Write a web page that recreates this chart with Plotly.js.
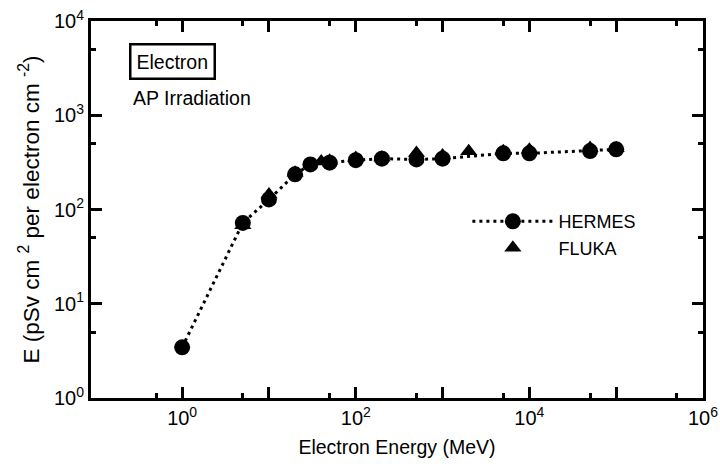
<!DOCTYPE html>
<html><head><meta charset="utf-8">
<script src="https://cdn.plot.ly/plotly-3.0.1.min.js"></script>
<style>html,body{margin:0;padding:0;background:#fff}#chart{width:720px;height:466px}</style>
</head><body><div id="chart"></div>
<script>
const hermesEnergy = [1, 5, 10, 20, 30, 50, 100, 200, 500, 1000, 5000, 10000, 50000, 100000];
const hermesDose   = [3.45, 72, 128, 236, 301, 314, 334, 346, 340, 346, 394, 394, 417, 435];
const flukaEnergy  = [5, 10, 20, 40, 50, 100, 200, 500, 1000, 2000, 5000, 10000, 50000, 100000];
const flukaDose    = [68, 144, 245, 324, 330, 351, 357, 398, 375, 414, 414, 430, 449, 446];

const xTickVals = [1, 10, 100, 1000, 10000, 100000, 1000000];
const xTickText = ['10<sup>0</sup>', '', '10<sup>2</sup>', '', '10<sup>4</sup>', '', '10<sup>6</sup>'];
const xMinorVals = [0.5, 5, 50, 500, 5000, 50000, 500000];
const yTickVals = [1, 10, 100, 1000, 10000];
const yTickText = ['10<sup>0</sup>', '10<sup>1</sup>', '10<sup>2</sup>', '10<sup>3</sup>', '10<sup>4</sup>'];
const yMinorVals = [5, 50, 500, 5000];

const FONT = 'Liberation Sans, Arial, sans-serif';

const traces = [
  {
    x: flukaEnergy, y: flukaDose, name: 'FLUKA', type: 'scatter', mode: 'markers',
    marker: {symbol: 'triangle-up', size: 15, color: '#000'}
  },
  {
    x: hermesEnergy, y: hermesDose, name: 'HERMES', type: 'scatter', mode: 'lines+markers',
    line: {color: '#000', width: 3, dash: '3px,4px'},
    marker: {symbol: 'circle', size: 16, color: '#000'}
  }
];

const axisCommon = {
  type: 'log', tickmode: 'array', ticks: 'inside', ticklen: 11, tickwidth: 3, tickcolor: '#000',
  showline: true, linewidth: 3, linecolor: '#000', mirror: 'allticks',
  showgrid: false, zeroline: false, tickfont: {family: FONT, size: 20, color: '#000'}
};

const layout = {
  width: 720, height: 466,
  margin: {l: 91, r: 17, t: 21, b: 68},
  paper_bgcolor: '#fff', plot_bgcolor: '#fff',
  font: {family: FONT, color: '#000', size: 18},
  showlegend: true,
  legend: {
    x: 0.615, y: 0.517, xanchor: 'left', yanchor: 'top',
    traceorder: 'reversed', itemwidth: 81, bgcolor: 'rgba(0,0,0,0)',
    font: {family: FONT, size: 18, color: '#000'}
  },
  xaxis: Object.assign({}, axisCommon, {
    range: [-1.05, 6], tickvals: xTickVals, ticktext: xTickText,
    minor: {tickvals: xMinorVals, ticks: 'inside', ticklen: 5, tickwidth: 3, tickcolor: '#000', showgrid: false},
    title: {text: 'Electron Energy (MeV)', font: {family: FONT, size: 19.5, color: '#000'}, standoff: 13}
  }),
  yaxis: Object.assign({}, axisCommon, {
    range: [0, 4], tickvals: yTickVals, ticktext: yTickText,
    minor: {tickvals: yMinorVals, ticks: 'inside', ticklen: 5, tickwidth: 3, tickcolor: '#000', showgrid: false},
    title: {text: 'E (pSv cm <sup>2</sup> per electron cm <sup>-2</sup>)', font: {family: FONT, size: 22.5, color: '#000'}, standoff: 9}
  }),
  annotations: [
    {xref: 'paper', yref: 'paper', x: (172.5 - 91) / 612, y: 1 - (61 - 21) / 377, xanchor: 'center', yanchor: 'middle',
     text: 'Electron', showarrow: false, bordercolor: '#000', borderwidth: 2.5, borderpad: 5,
     font: {family: FONT, size: 19.5, color: '#000'}},
    {xref: 'paper', yref: 'paper', x: (131 - 91) / 612, y: 1 - (98 - 21) / 377, xanchor: 'left', yanchor: 'middle',
     text: 'AP Irradiation', showarrow: false, font: {family: FONT, size: 19.5, color: '#000'}}
  ]
};

Plotly.newPlot('chart', traces, layout, {displayModeBar: false, staticPlot: true});
</script>
</body></html>
